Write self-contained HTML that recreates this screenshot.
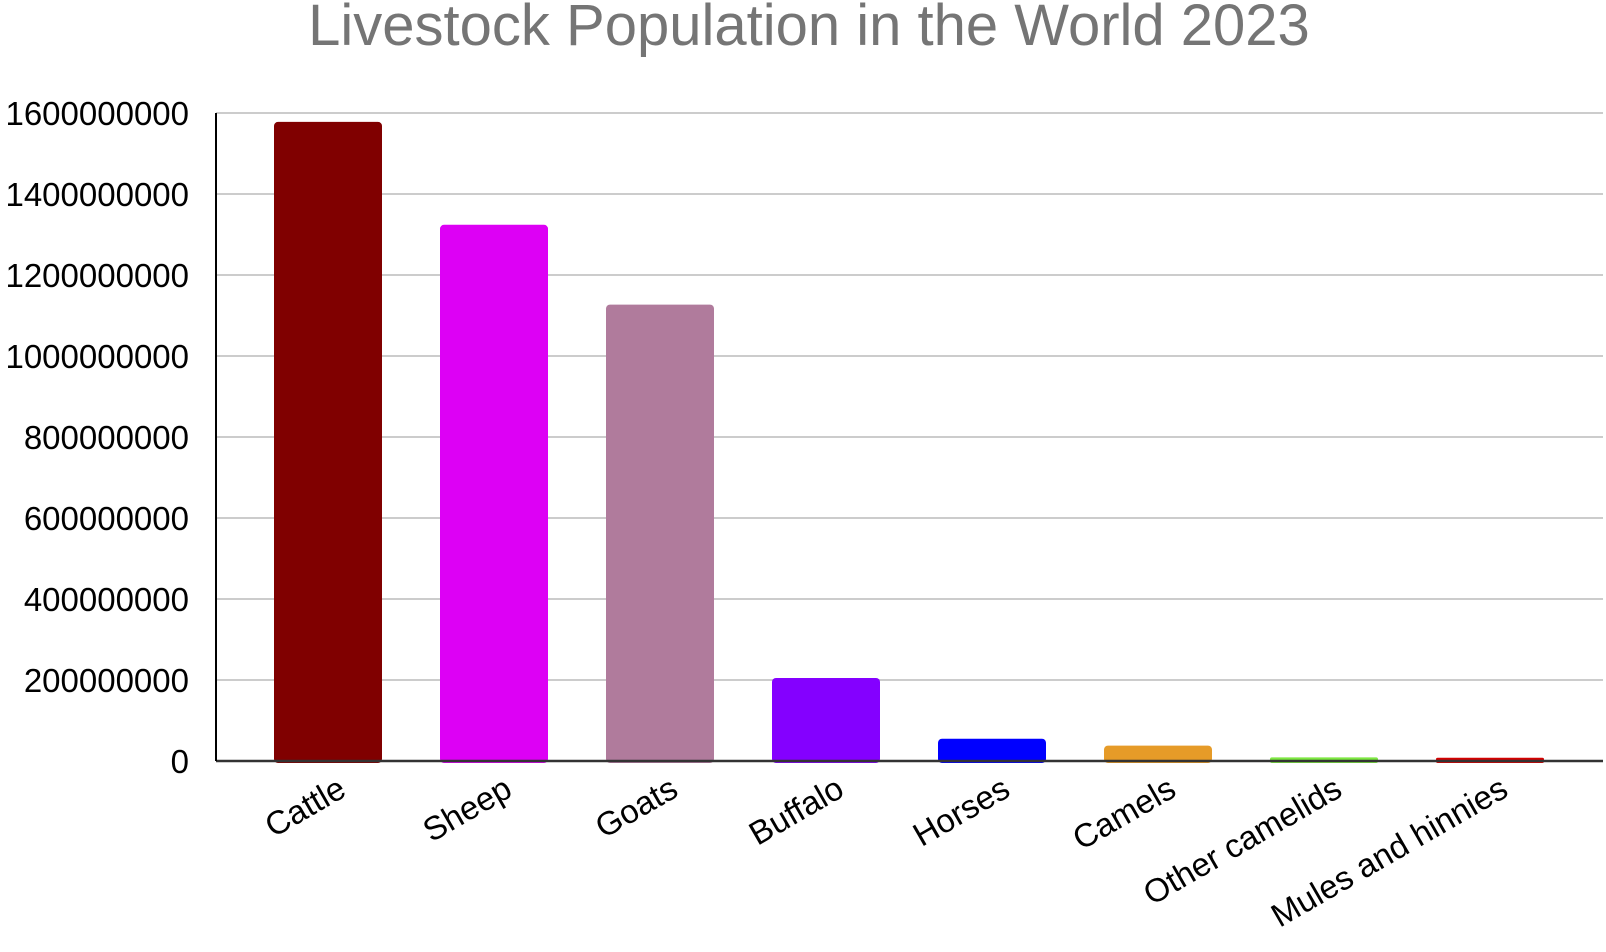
<!DOCTYPE html>
<html><head><meta charset="utf-8"><style>
html,body{margin:0;padding:0;background:#fff;}
svg{display:block;font-family:"Liberation Sans",Arial,sans-serif;}
</style></head><body>
<svg id="chart" width="1606" height="952" viewBox="0 0 1606 952">
<text x="809" y="45" text-anchor="middle" font-size="58" fill="#757575">Livestock Population in the World 2023</text>
<g id="grid"></g><g id="bars"></g><g id="labels"></g>
</svg>
<script>
const categories=["Cattle","Sheep","Goats","Buffalo","Horses","Camels","Other camelids","Mules and hinnies"];
const values=[1578000000,1324000000,1127000000,205000000,55000000,38000000,9000000,8000000];
const colors=["#800000","#dd00f5","#b07b9c","#8400ff","#0000ff","#e69b28","#7de841","#d40000"];
const yTicks=[0,200000000,400000000,600000000,800000000,1000000000,1200000000,1400000000,1600000000];
const tickLabels=["0","200000000","400000000","600000000","800000000","1000000000","1200000000","1400000000","1600000000"];
const NS="http://www.w3.org/2000/svg";
const x0=216,x1=1603,base=761,yTop=113,yMax=1600000000;
const yScale=v=>base-(v/yMax)*(base-yTop);
const step=166,first=328,bw=108;
const xc=i=>first+i*step;
function mk(t,a){const e=document.createElementNS(NS,t);for(const k in a)e.setAttribute(k,a[k]);return e;}
const grid=document.getElementById('grid'),bars=document.getElementById('bars'),labels=document.getElementById('labels');
yTicks.forEach((v,i)=>{
 if(i>0){const l=mk('line',{x1:x0,x2:x1,y1:yScale(v),y2:yScale(v),stroke:'#cccccc','stroke-width':2});
 
 grid.appendChild(l);}
 const t=mk('text',{x:189,y:yScale(v)+12,'text-anchor':'end','font-size':33,fill:'#000'});
 t.textContent=tickLabels[i];
 
 labels.appendChild(t);
});
categories.forEach((c,i)=>{
 const h=Math.max(base-yScale(values[i]),3);
 const r=mk('rect',{x:xc(i)-bw/2,y:base-h,width:bw,height:h+2,rx:Math.min(4,h/2),fill:colors[i]});
 
 bars.appendChild(r);
 const t=mk('text',{x:xc(i)+20,y:795,'text-anchor':'end','font-size':33,fill:'#000',transform:`rotate(-30 ${xc(i)+20} 795)`});
 t.textContent=c;
 
 labels.appendChild(t);
});
const ax=mk('line',{x1:x0,x2:x1,y1:base,y2:base,stroke:'#333','stroke-width':2.5});

document.getElementById('chart').appendChild(ax);
const ay=mk('line',{x1:x0,x2:x0,y1:yTop,y2:base,stroke:'#000','stroke-width':2});

document.getElementById('chart').appendChild(ay);
</script>
</body></html>
